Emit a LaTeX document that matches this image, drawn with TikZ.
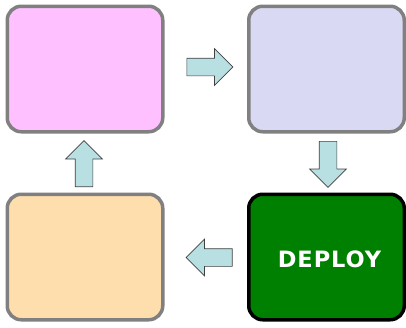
\documentclass[tikz,border=0pt]{standalone}
\usepackage{fontspec}
\usetikzlibrary{shapes,arrows,positioning}
\newfontfamily\deployfont[LetterSpace=4]{DejaVu Sans Bold}
\definecolor{pinkBox}{HTML}{FFC0FF}
\definecolor{lavenderBox}{HTML}{D9D9F3}
\definecolor{peachBox}{HTML}{FFDEAD}
\definecolor{greenBox}{HTML}{008000}
\definecolor{borderGray}{HTML}{808080}
\definecolor{arrowBlue}{HTML}{B8DFE2}

\begin{document}
\begin{tikzpicture}[x=1pt,y=-1pt,
    stageBox/.style={rectangle,rounded corners=14pt,line width=3.5pt,draw=borderGray,minimum width=155.5pt,minimum height=125.5pt,inner sep=0pt},
    flowArrow/.style={single arrow,draw=black!75,line width=0.7pt,fill=arrowBlue,inner sep=8.5pt,minimum width=36pt,minimum height=46pt,single arrow head extend=9.5pt,single arrow head indent=0pt,anchor=tail}]
    \useasboundingbox (0,0) rectangle (406,327);

    \node[stageBox,fill=pinkBox] (topLeftNode) at (85,69) {};
    \node[stageBox,fill=lavenderBox] (topRightNode) at (326.5,69) {};
    \node[stageBox,fill=peachBox] (bottomLeftNode) at (85,257) {};
    \node[stageBox,fill=greenBox,draw=black] (bottomRightNode) at (326.5,257) {};
    \node[text=white,inner sep=0pt] (deployText) at (329.5,259.5) {\deployfont\fontsize{22.5pt}{26pt}\selectfont DEPLOY};

    \node[flowArrow] (rightArrow) at (186.5,67) {};
    \node[flowArrow,rotate=-90] (downArrow) at (328,141) {};
    \node[flowArrow,rotate=180] (leftArrow) at (232.5,257.5) {};
    \node[flowArrow,rotate=90] (upArrow) at (84,187) {};

  \end{tikzpicture}
\end{document}
